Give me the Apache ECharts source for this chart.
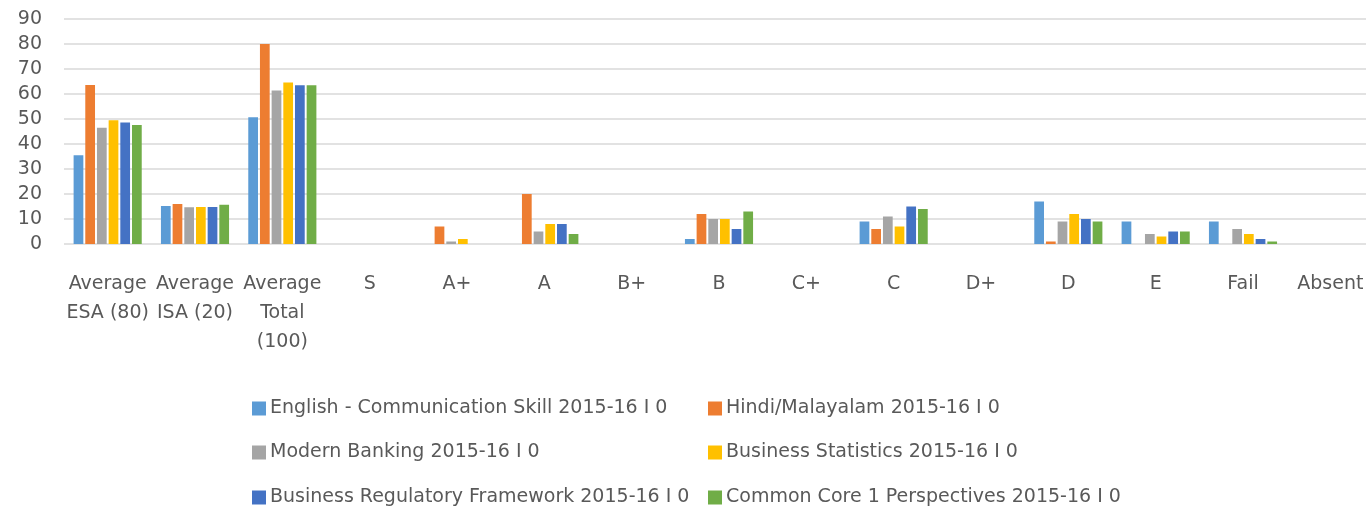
<!DOCTYPE html>
<html>
<head>
<meta charset="utf-8">
<script src="https://cdn.jsdelivr.net/npm/echarts@6/dist/echarts.min.js"></script>
<style>
html,body{margin:0;padding:0;background:#fff;overflow:hidden;}
#chart{width:1380px;height:511px;}
</style>
</head>
<body>
<div id="chart"></div>
<script>
const categories = ['Average\nESA (80)', 'Average\nISA (20)', 'Average\nTotal\n(100)', 'S', 'A+', 'A', 'B+', 'B', 'C+', 'C', 'D+', 'D', 'E', 'Fail', 'Absent'];
const seriesNames = [
  'English - Communication Skill 2015-16 I 0',
  'Hindi/Malayalam 2015-16 I 0',
  'Modern Banking 2015-16 I 0',
  'Business Statistics 2015-16 I 0',
  'Business Regulatory Framework 2015-16 I 0',
  'Common Core 1 Perspectives 2015-16 I 0'
];
const english    = [35.5, 15.2, 50.7, 0, 0, 0, 0, 2, 0, 9, 0, 17, 9, 9, 0];
const hindi      = [63.6, 16.0, 80.0, 0, 7, 20, 0, 12, 0, 6, 0, 1, 0, 0, 0];
const banking    = [46.5, 14.7, 61.4, 0, 1, 5, 0, 10, 0, 11, 0, 9, 4, 6, 0];
const statistics = [49.5, 14.8, 64.6, 0, 2, 8, 0, 10, 0, 7, 0, 12, 3, 4, 0];
const regulatory = [48.6, 14.8, 63.5, 0, 0, 8, 0, 6, 0, 15, 0, 10, 5, 2, 0];
const coreCourse = [47.6, 15.7, 63.5, 0, 0, 4, 0, 13, 0, 14, 0, 9, 5, 1, 0];
const yTicks = [0, 10, 20, 30, 40, 50, 60, 70, 80, 90];

const colors = ['#5B9BD5', '#ED7D31', '#A5A5A5', '#FFC000', '#4472C4', '#70AD47'];
const allData = [english, hindi, banking, statistics, regulatory, coreCourse];
const font = '"DejaVu Sans", sans-serif';
const textColor = '#595959';

const legendPos = [
  {left: 252, top: 399}, {left: 708, top: 399},
  {left: 252, top: 443}, {left: 708, top: 443},
  {left: 252, top: 488}, {left: 708, top: 488}
];

const chart = echarts.init(document.getElementById('chart'), null, {renderer: 'canvas'});
chart.setOption({
  animation: false,
  color: colors,
  textStyle: {fontFamily: font},
  grid: {left: 64, top: 19, width: 1310, height: 225, containLabel: false},
  legend: seriesNames.map((n, i) => ({
    data: [n],
    left: legendPos[i].left,
    top: legendPos[i].top,
    padding: 0,
    itemWidth: 14,
    itemHeight: 14,
    itemGap: 0,
    icon: 'rect',
    selectedMode: false,
    textStyle: {fontFamily: font, fontSize: 19, color: textColor, padding: [0, 0, 0, -1]}
  })),
  xAxis: {
    type: 'category',
    data: categories,
    axisLine: {show: false},
    axisTick: {show: false},
    axisLabel: {
      interval: 0,
      margin: 26,
      fontFamily: font,
      fontSize: 19,
      lineHeight: 29,
      color: textColor,
      verticalAlign: 'top'
    }
  },
  yAxis: {
    type: 'value',
    min: yTicks[0],
    max: yTicks[yTicks.length - 1],
    interval: 10,
    axisLine: {show: false},
    axisTick: {show: false},
    axisLabel: {fontFamily: font, fontSize: 19, color: textColor, margin: 22},
    splitLine: {lineStyle: {color: '#d9d9d9', width: 1.5}}
  },
  series: seriesNames.map((n, i) => ({
    name: n,
    type: 'bar',
    data: allData[i],
    barGap: '20%',
    barCategoryGap: '22%',
    itemStyle: {color: colors[i]}
  }))
});
</script>
</body>
</html>
